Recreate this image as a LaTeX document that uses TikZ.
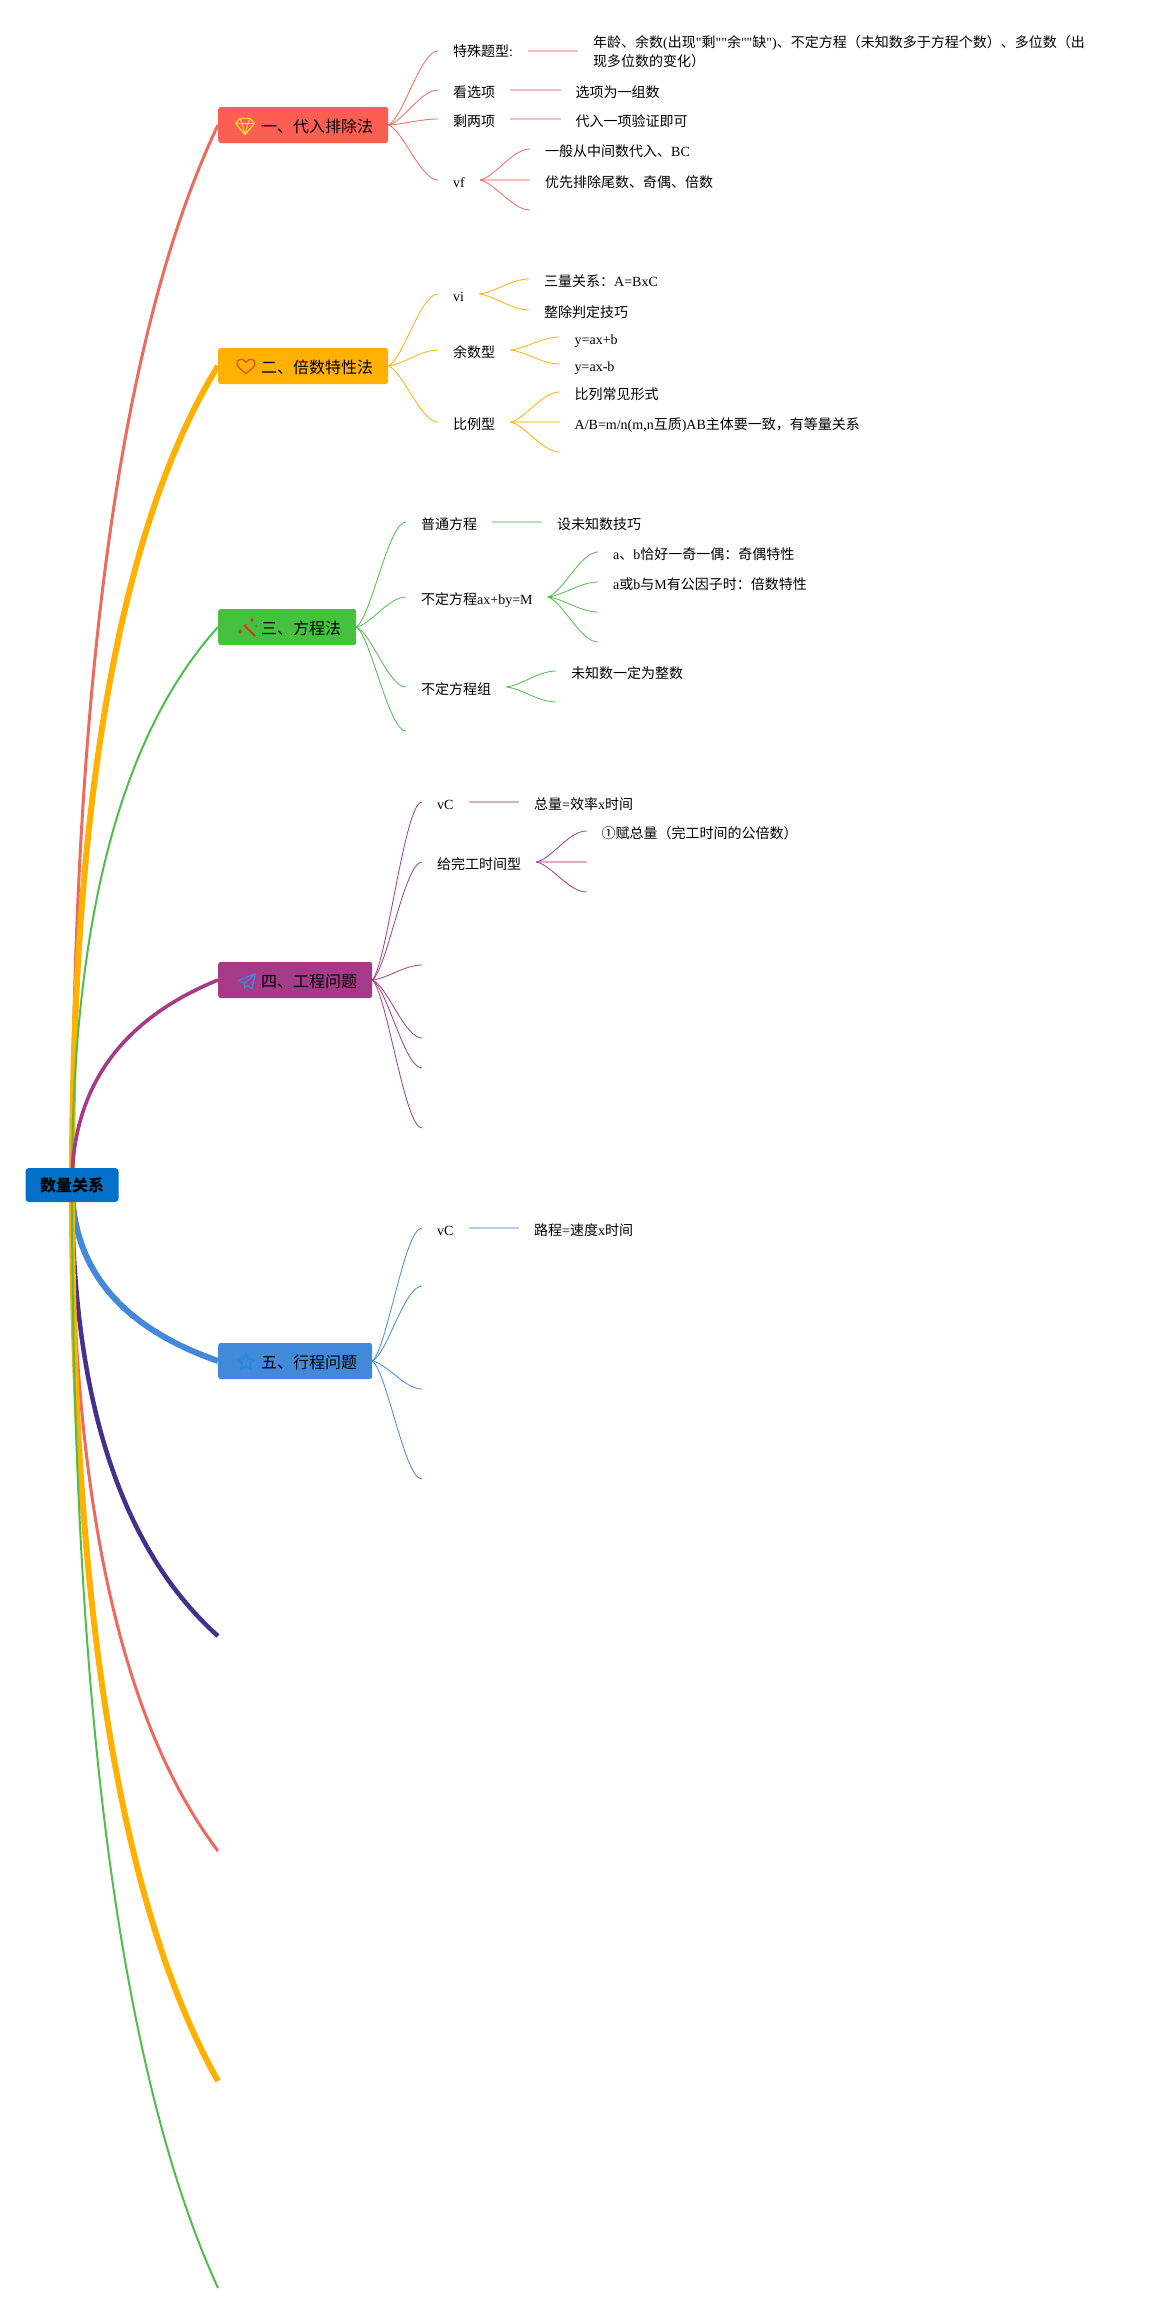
\documentclass[tikz,border=0pt]{standalone}
\usepackage{fontspec}
\setmainfont{Noto Sans CJK SC}
\newfontfamily\latinfont{Liberation Serif}
\newcommand{\lat}[1]{{\latinfont #1}}
\usetikzlibrary{calc}
\pgfdeclarelayer{bg}
\pgfsetlayers{bg,main}
\definecolor{cred}{HTML}{EC6A5E}
\definecolor{cfillred}{HTML}{FC5F52}
\definecolor{cyel}{HTML}{FFB000}
\definecolor{cgrn}{HTML}{45C13F}
\definecolor{cgrnl}{HTML}{4FBE49}
\definecolor{cpur}{HTML}{A43A88}
\definecolor{cblu}{HTML}{428AD9}
\definecolor{cdark}{HTML}{44308F}
\definecolor{croot}{HTML}{0070C8}
\definecolor{cgem}{HTML}{FFD43A}
\definecolor{cheart}{HTML}{DC5A1E}
\definecolor{cwand}{HTML}{B8431C}
\definecolor{cplane}{HTML}{3F87D8}
\definecolor{cstar}{HTML}{1E8CE0}
\tikzset{
  x=1pt,y=-1pt,
  rootbox/.style={fill=croot,rounded corners=3.5pt,inner xsep=14.5pt,minimum height=34pt,font=\fontsize{16}{18}\selectfont\bfseries,text height=14pt,text depth=1pt},
  mainbox/.style={rounded corners=2.5pt,anchor=west,inner xsep=15pt,minimum height=36pt,font=\fontsize{16}{18}\selectfont,text height=16pt,text depth=2pt},
  subnode/.style={anchor=west,inner xsep=15pt,inner ysep=0pt,font=\fontsize{14}{19}\selectfont,text height=15pt,text depth=0pt},
  longnode/.style={anchor=west,inner xsep=15pt,inner ysep=0pt,font=\fontsize{14}{19}\selectfont,align=left},
  twig/.style={line width=0.8pt},
  straight/.style={line width=1.6pt,opacity=0.42},
  icon/.style={line width=1.3pt,line join=round,fill=none},
}
\newcommand{\mainlink}[3]{\draw[line width=#3,color=#2] let \p1=(root.center),\p2=(#1),\n1={\x2-\x1},\n2={\y2-\y1} in (\p1) .. controls (\x1,{\y1+0.4733*\n2}) and ({\x2-0.6667*\n1},{\y2-0.1933*\n2}) .. (\p2);}
\newcommand{\twiglink}[3]{\draw[twig,color=#3] let \p1=(#1),\p2=(#2),\n1={\x2-\x1},\n2={\y2-\y1} in (\p1) .. controls ({\x1+0.3*\n1},{\y1+0.1*\n2}) and ({\x1+0.65*\n1},\y2) .. (\p2);}
\begin{document}
\begin{tikzpicture}
\useasboundingbox (0,0) rectangle (1153,2310);
\begin{pgfonlayer}{bg}\fill[white] (0,0) rectangle (1153,2310);\end{pgfonlayer}

% root and main boxes
\node[rootbox] (root) at (72,1185) {数量关系};
\node[mainbox,fill=cfillred] (b1) at (218,125) {\hspace{28pt}一、代入排除法};
\node[mainbox,fill=cyel] (b2) at (218,366) {\hspace{28pt}二、倍数特性法};
\node[mainbox,fill=cgrn] (b3) at (218,627) {\hspace{28pt}三、方程法};
\node[mainbox,fill=cpur] (b4) at (218,980) {\hspace{28pt}四、工程问题};
\node[mainbox,fill=cblu] (b5) at (218,1361) {\hspace{28pt}五、行程问题};
\coordinate (b6) at (218,1636);
\coordinate (b7) at (218,1851);
\coordinate (b8) at (218,2081);
\coordinate (b9) at (218,2288);

% icons
\begin{scope}[shift={(245,126.5)}]
\draw[icon,draw=cgem] (-5,-8) -- (5,-8) -- (9.5,-3) -- (0,8) -- (-9.5,-3) -- cycle;
\draw[icon,line width=1pt,draw=cgem] (-9.5,-3) -- (9.5,-3) (-5,-8) -- (-3,-3) -- (0,8) -- (3,-3) -- (5,-8);
\end{scope}
\begin{scope}[shift={(246,366)}]
\draw[icon,line width=1.4pt,draw=cheart] (0,7.5) .. controls (-5,3.5) and (-9,1) .. (-9,-2.5) .. controls (-9,-8) and (-2,-8) .. (0,-3.5) .. controls (2,-8) and (9,-8) .. (9,-2.5) .. controls (9,1) and (5,3.5) .. (0,7.5) -- cycle;
\end{scope}
\begin{scope}[shift={(247,627)}]
\draw[line width=2pt,draw=cwand] (-3,-2) -- (8,9);
\fill[cwand] (-7,2) -- (-5,4) -- (-7,6) -- (-9,4) -- cycle;
\fill[cwand] (5,-9.5) -- (6.5,-7) -- (5,-4.5) -- (3.5,-7) -- cycle;
\fill[cwand] (-1,-2.5) circle (0.9);
\fill[cwand] (9,-1) circle (0.8);
\end{scope}
\begin{scope}[shift={(247,981)}]
\draw[icon,draw=cplane] (8.3,-7.3) -- (-8.3,-0.7) -- (-2.5,2.5) -- (-2.5,7) -- (0.2,4.2) -- (5,7.7) -- cycle;
\draw[icon,draw=cplane] (-2.5,2.5) -- (8.3,-7.3);
\end{scope}
\begin{scope}[shift={(246,1362)}]
\draw[icon,line width=1.6pt,draw=cstar] (0,-9) -- (2.35,-3.24) -- (8.56,-2.78) -- (3.8,1.24) -- (5.29,7.28) -- (0,4) -- (-5.29,7.28) -- (-3.8,1.24) -- (-8.56,-2.78) -- (-2.35,-3.24) -- cycle;
\end{scope}

% branch 1
\node[longnode] (a1) at (438,51) {特殊题型\lat{:}};
\node[longnode] (a1x) at (578,52) {年龄、余数\lat{(}出现\lat{"}剩\lat{""}余\lat{""}缺\lat{")}、不定方程（未知数多于方程个数）、多位数（出\\现多位数的变化）};
\node[subnode] (a2) at (438,90) {看选项};
\node[subnode] (a2x) at (560.5,90) {选项为一组数};
\node[subnode] (a3) at (438,119) {剩两项};
\node[subnode] (a3x) at (560.5,119) {代入一项验证即可};
\node[subnode] (a4) at (438,180) {\lat{vf}};
\node[subnode] (a4x) at (530,149) {一般从中间数代入、\lat{BC}};
\node[subnode] (a4y) at (530,180) {优先排除尾数、奇偶、倍数};
\coordinate (a4z) at (530,210);

% branch 2
\node[subnode] (c1) at (438,294) {\lat{vi}};
\node[subnode] (c1x) at (529,279) {三量关系：\lat{A=BxC}};
\node[subnode] (c1y) at (529,310) {整除判定技巧};
\node[subnode] (c2) at (438,350) {余数型};
\node[subnode] (c2x) at (559.5,337) {\lat{y=ax+b}};
\node[subnode] (c2y) at (559.5,364) {\lat{y=ax-b}};
\node[subnode] (c3) at (438,422) {比例型};
\node[subnode] (c3x) at (559.5,392) {比列常见形式};
\node[subnode] (c3y) at (559.5,422) {\lat{A/B=m/n(m,n}互质\lat{)AB}主体要一致，有等量关系};
\coordinate (c3z) at (559.5,452);

% branch 3
\node[subnode] (d1) at (406,522) {普通方程};
\node[subnode] (d1x) at (542,522) {设未知数技巧};
\node[subnode] (d2) at (406,597) {不定方程\lat{ax+by=M}};
\node[subnode] (d2x) at (598,552) {\lat{a}、\lat{b}恰好一奇一偶：奇偶特性};
\node[subnode] (d2y) at (598,582) {\lat{a}或\lat{b}与\lat{M}有公因子时：倍数特性};
\coordinate (d2z) at (598,612);
\coordinate (d2w) at (598,642);
\node[subnode] (d3) at (406,687) {不定方程组};
\node[subnode] (d3x) at (556,671) {未知数一定为整数};
\coordinate (d3y) at (556,702);
\coordinate (d4) at (406,731);

% branch 4
\node[subnode] (e1) at (422,802) {\lat{vC}};
\node[subnode] (e1x) at (519,802) {总量\lat{=}效率\lat{x}时间};
\node[subnode] (e2) at (422,862) {给完工时间型};
\node[subnode] (e2x) at (586.5,831) {①赋总量（完工时间的公倍数）};
\coordinate (e2y) at (586.5,862);
\coordinate (e2z) at (586.5,892);
\coordinate (e3) at (422,965);
\coordinate (e4) at (422,1038);
\coordinate (e5) at (422,1068);
\coordinate (e6) at (422,1128);

% branch 5
\node[subnode] (f1) at (422,1228) {\lat{vC}};
\node[subnode] (f1x) at (519,1228) {路程\lat{=}速度\lat{x}时间};
\coordinate (f2) at (422,1286);
\coordinate (f3) at (422,1389);
\coordinate (f4) at (422,1479);

\begin{pgfonlayer}{bg}
\mainlink{b1.west}{cred}{3pt}
\mainlink{b2.west}{cyel}{6pt}
\mainlink{b3.west}{cgrnl}{2pt}
\mainlink{b4.west}{cpur}{3.6pt}
\mainlink{b5.west}{cblu}{6pt}
\mainlink{b6}{cdark}{4.5pt}
\mainlink{b7}{cred}{3pt}
\mainlink{b8}{cyel}{6pt}
\mainlink{b9}{cgrnl}{2pt}

\twiglink{b1.east}{a1.west}{cred}
\twiglink{b1.east}{a2.west}{cred}
\twiglink{b1.east}{a3.west}{cred}
\twiglink{b1.east}{a4.west}{cred}
\draw[straight,cred] (a1.east) -- (a1.east -| a1x.west);
\draw[straight,cred] (a2.east) -- (a2x.west);
\draw[straight,cred] (a3.east) -- (a3x.west);
\twiglink{a4.east}{a4x.west}{cred}
\draw[straight,cred] (a4.east) -- (a4y.west);
\twiglink{a4.east}{a4z}{cred}

\twiglink{b2.east}{c1.west}{cyel}
\twiglink{b2.east}{c2.west}{cyel}
\twiglink{b2.east}{c3.west}{cyel}
\twiglink{c1.east}{c1x.west}{cyel}
\twiglink{c1.east}{c1y.west}{cyel}
\twiglink{c2.east}{c2x.west}{cyel}
\twiglink{c2.east}{c2y.west}{cyel}
\twiglink{c3.east}{c3x.west}{cyel}
\draw[straight,cyel] (c3.east) -- (c3y.west);
\twiglink{c3.east}{c3z}{cyel}

\twiglink{b3.east}{d1.west}{cgrnl}
\twiglink{b3.east}{d2.west}{cgrnl}
\twiglink{b3.east}{d3.west}{cgrnl}
\twiglink{b3.east}{d4}{cgrnl}
\draw[straight,cgrnl] (d1.east) -- (d1x.west);
\twiglink{d2.east}{d2x.west}{cgrnl}
\twiglink{d2.east}{d2y.west}{cgrnl}
\twiglink{d2.east}{d2z}{cgrnl}
\twiglink{d2.east}{d2w}{cgrnl}
\twiglink{d3.east}{d3x.west}{cgrnl}
\twiglink{d3.east}{d3y}{cgrnl}

\twiglink{b4.east}{e1.west}{cpur}
\twiglink{b4.east}{e2.west}{cpur}
\twiglink{b4.east}{e3}{cpur}
\twiglink{b4.east}{e4}{cpur}
\twiglink{b4.east}{e5}{cpur}
\twiglink{b4.east}{e6}{cpur}
\draw[straight,cpur] (e1.east) -- (e1x.west);
\twiglink{e2.east}{e2x.west}{cpur}
\draw[straight,cpur] (e2.east) -- (e2y);
\twiglink{e2.east}{e2z}{cpur}

\twiglink{b5.east}{f1.west}{cblu}
\twiglink{b5.east}{f2}{cblu}
\twiglink{b5.east}{f3}{cblu}
\twiglink{b5.east}{f4}{cblu}
\draw[straight,cblu] (f1.east) -- (f1x.west);
\end{pgfonlayer}
\end{tikzpicture}
\end{document}
